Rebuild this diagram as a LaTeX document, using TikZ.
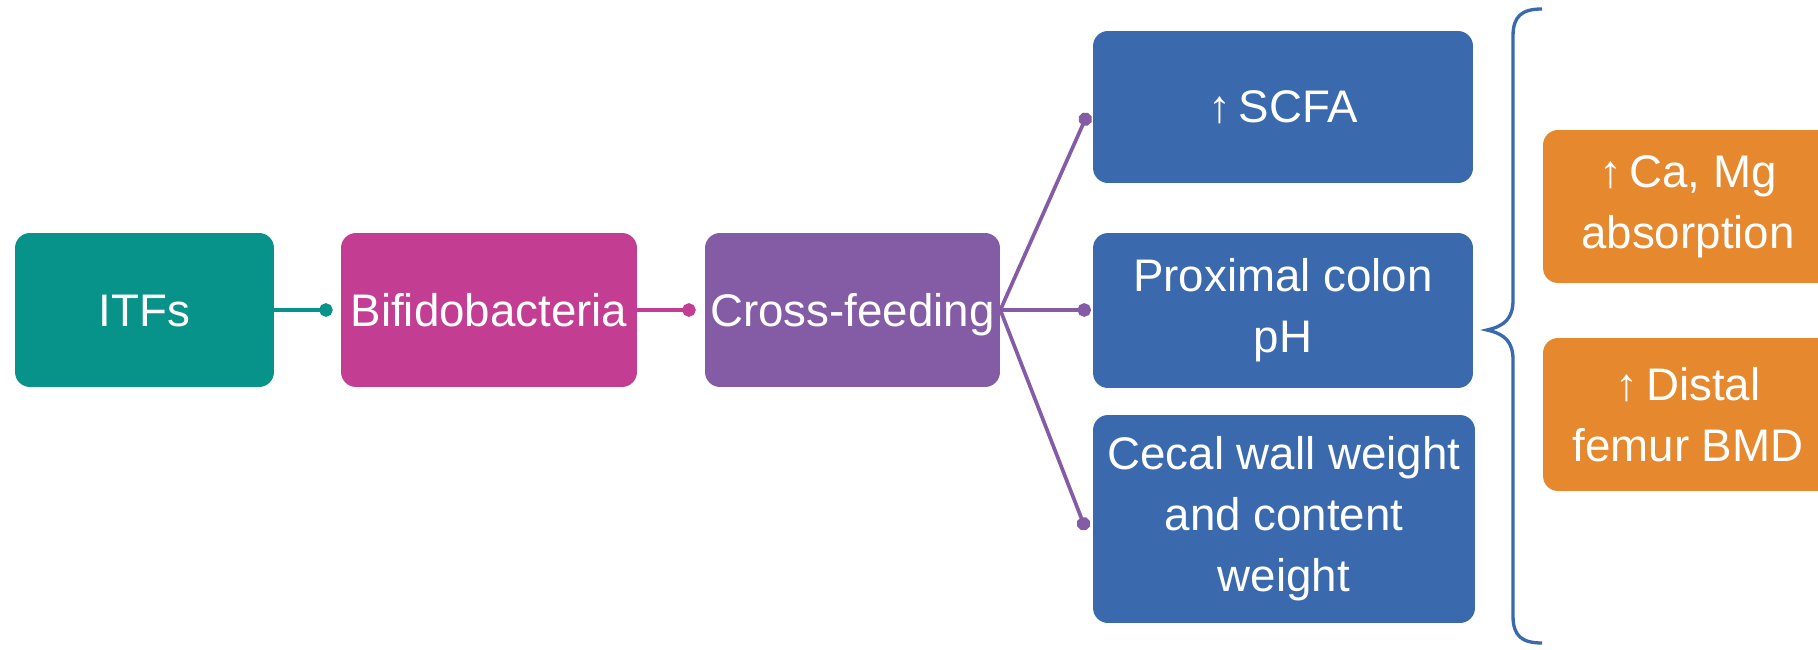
\documentclass[tikz,border=0pt]{standalone}
\usepackage{fontspec}
\setmainfont{Liberation Sans}
\usetikzlibrary{arrows.meta}

\definecolor{itfcol}{HTML}{08938A}
\definecolor{bifcol}{HTML}{C33E92}
\definecolor{crosscol}{HTML}{845CA6}
\definecolor{effcol}{HTML}{3A69AE}
\definecolor{boncol}{HTML}{E5882E}

\begin{document}
\begin{tikzpicture}[x=0.02cm, y=-0.02cm]
  \tikzstyle{box}=[rounded corners=0.3cm, text=white, align=center, inner sep=0pt,
                   font=\fontsize{26}{34.7}\selectfont]
  \tikzstyle{chain}=[box, minimum height=3.08cm, text height=20pt, text depth=1.4pt]
  \tikzstyle{link}=[line width=2.1pt, -{Circle[length=0.27cm]}]
  \tikzstyle{effect}=[box, fill=effcol, minimum width=7.6cm]
  \tikzstyle{bone}=[box, fill=boncol, minimum width=5.8cm, minimum height=3.06cm]

  \useasboundingbox (0,0) rectangle (1818,649);
  \clip (0,0) rectangle (1818,649);

  % chain
  \node[chain, fill=itfcol, minimum width=5.18cm] (itfs) at (144.5,310) {ITFs};
  \node[chain, fill=bifcol, minimum width=5.92cm] (bifido) at (489,310) {Bifidobacteria};
  \node[chain, fill=crosscol, minimum width=5.9cm] (cross) at (852.5,310) {Cross-feeding};

  % effects
  \node[effect, minimum height=3.04cm] (scfa) at (1283,107) {↑\,SCFA};
  \node[effect, minimum height=3.1cm] (ph) at (1283,310.5) {Proximal colon\\pH};
  \node[effect, minimum width=7.64cm, minimum height=4.16cm] (cecal) at (1284,519) {Cecal wall weight\\and content\\weight};

  % bone outcomes
  \node[bone] (mineral) at (1688,206.5) {↑\,Ca, Mg\\absorption};
  \node[bone] (bmd) at (1688,414.5) {↑\,Distal\\femur BMD};

  \coordinate (scfa-in) at (1088,113);
  \coordinate (ph-in) at (1091,310);
  \coordinate (cecal-in) at (1086,530);

  \draw[link, itfcol] (itfs) -- ([xshift=-0.16cm]bifido.west);
  \draw[link, bifcol] (bifido) -- ([xshift=-0.18cm]cross.west);
  \draw[link, crosscol] (cross.east) -- (scfa-in);
  \draw[link, crosscol] (cross.east) -- (ph-in);
  \draw[link, crosscol] (cross.east) -- (cecal-in);

  % brace
  \draw[effcol, line width=1.9pt] (1542,9) .. controls (1522,9) and (1513,16) .. (1513,36)
    -- (1513,300) .. controls (1513,318) and (1505,326) .. (1487,330)
    .. controls (1505,334) and (1513,342) .. (1513,360)
    -- (1513,616) .. controls (1513,636) and (1522,643) .. (1542,643);
\end{tikzpicture}
\end{document}
